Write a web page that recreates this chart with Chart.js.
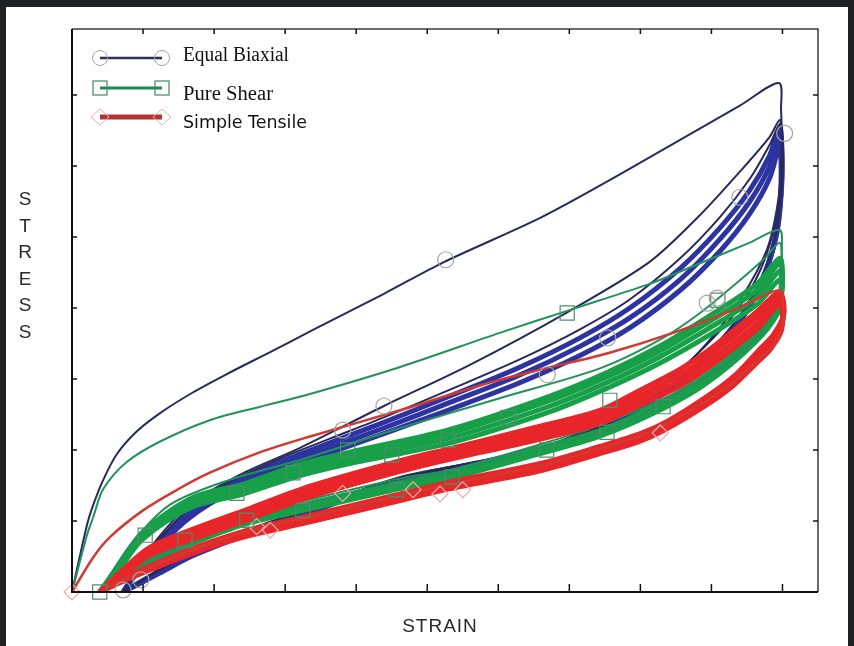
<!DOCTYPE html>
<html>
<head>
<meta charset="utf-8">
<title>Stress vs strain</title>
<script src="https://cdn.jsdelivr.net/npm/chart.js@4.4.0/dist/chart.umd.min.js"></script>
<style>
  html, body { margin: 0; padding: 0; }
  body { width: 854px; height: 646px; background: #1f2124; position: relative; overflow: hidden; }
  #sheet { position: absolute; left: 6px; top: 7px; width: 842px; height: 639px; background: #fff; }
  #stressStrain { position: absolute; left: 0; top: 0; }
</style>
</head>
<body>
<div id="sheet"></div>
<canvas id="stressStrain" width="854" height="646"></canvas>
<script>
// axis ticks (no labels in the original), strain 0..10.5, stress 0..7.93
let strainTicks = [1, 2, 3, 4, 5, 6, 7, 8, 9, 10];
let stressTicks = [1, 2, 3, 4, 5, 6, 7];
let legendLabels = ["Equal Biaxial", "Pure Shear", "Simple Tensile"];

// Equal Biaxial - loading branch then unloading branch of each cycle
let biaxialCycle1 = [[0,0],[0.21,0.94],[0.30,1.23],[0.44,1.58],[0.63,1.94],[0.91,2.26],[1.24,2.52],[1.70,2.81],[2.18,3.07],[2.83,3.40],[3.35,3.67],[4.39,4.20],[5.22,4.64],[6.59,5.27],[7.53,5.78],[8.70,6.45],[9.40,6.85],[9.95,7.17],
  [9.98,6.79],[9.99,6.23],[9.94,5.52],[9.78,4.82],[9.40,4.11],[8.94,3.51],[8.37,2.94],[7.71,2.49],[7.01,2.14],[6.02,1.89],[4.62,1.62],[3.35,1.17],[2.65,0.93],[1.70,0.56],[1.24,0.32],[0.72,0]];
let biaxialCycle2 = [[0.72,0],[1.10,0.62],[1.66,1.23],[2.36,1.65],[3.21,2.03],[4.39,2.62],[5.60,3.20],[6.97,3.94],[8.13,4.65],[8.84,5.31],[9.40,5.92],[9.82,6.41],[9.96,6.65],
  [9.99,6.45],[10.0,5.94],[9.91,5.24],[9.70,4.56],[9.36,3.97],[8.88,3.43],[8.30,2.92],[7.60,2.47],[6.85,2.12],[5.90,1.88],[4.62,1.61],[3.35,1.18],[2.65,0.94],[1.70,0.57],[1.24,0.33],[0.72,0]];
let biaxialCycle3 = [[0.72,0],[0.96,0.40],[1.24,0.76],[1.66,1.18],[2.22,1.55],[2.93,1.88],[3.63,2.16],[4.39,2.46],[5.32,2.85],[6.31,3.28],[7.15,3.70],[7.85,4.12],[8.56,4.70],[9.12,5.28],[9.54,5.82],[9.82,6.30],[9.97,6.60],
  [10.0,6.40],[10.0,5.85],[9.93,5.15],[9.74,4.50],[9.42,3.92],[8.96,3.38],[8.40,2.90],[7.72,2.47],[6.98,2.14],[6.0,1.88],[4.62,1.60],[3.35,1.16],[2.65,0.92],[1.70,0.55],[1.24,0.31],[0.72,0]];
let biaxialCycle4 = [[0.72,0],[0.96,0.38],[1.24,0.73],[1.66,1.15],[2.22,1.51],[2.93,1.83],[3.63,2.10],[4.39,2.39],[5.32,2.76],[6.31,3.17],[7.15,3.58],[7.85,4.00],[8.56,4.56],[9.12,5.13],[9.54,5.66],[9.82,6.15],[9.96,6.55],
  [9.99,6.30],[9.99,5.75],[9.92,5.05],[9.72,4.42],[9.40,3.86],[8.95,3.34],[8.40,2.87],[7.72,2.46],[7.0,2.14],[6.0,1.87],[4.62,1.59],[3.35,1.15],[2.65,0.91],[1.70,0.54],[1.24,0.30],[0.72,0]];
let biaxialCycle5 = [[0.72,0],[0.96,0.35],[1.24,0.70],[1.66,1.10],[2.22,1.46],[2.93,1.77],[3.63,2.03],[4.39,2.31],[5.32,2.67],[6.31,3.06],[7.15,3.46],[7.85,3.86],[8.56,4.40],[9.12,4.97],[9.54,5.50],[9.82,6.00],[9.96,6.45],
  [9.99,6.20],[9.98,5.65],[9.90,4.98],[9.70,4.36],[9.38,3.80],[8.93,3.30],[8.38,2.84],[7.70,2.44],[7.0,2.12],[6.0,1.86],[4.62,1.58],[3.35,1.13],[2.65,0.89],[1.70,0.52],[1.24,0.28],[0.72,0]];
let biaxialCycle6 = [[0.72,0],[0.96,0.33],[1.24,0.66],[1.66,1.05],[2.22,1.40],[2.93,1.70],[3.63,1.96],[4.39,2.23],[5.32,2.57],[6.31,2.95],[7.15,3.33],[7.85,3.72],[8.56,4.25],[9.12,4.80],[9.54,5.33],[9.82,5.83],[9.96,6.30],
  [9.98,6.05],[9.97,5.50],[9.88,4.90],[9.68,4.30],[9.36,3.75],[8.92,3.26],[8.36,2.81],[7.68,2.42],[7.0,2.10],[6.0,1.85],[4.62,1.57],[3.35,1.12],[2.65,0.88],[1.70,0.51],[1.24,0.27],[0.72,0]];

// Pure Shear
let shearCycle1 = [[0,0],[0.21,0.80],[0.30,1.06],[0.44,1.45],[0.77,1.83],[1.24,2.12],[1.94,2.42],[2.65,2.61],[3.35,2.79],[4.62,3.17],[6.02,3.65],[6.97,3.96],[7.43,4.11],[8.13,4.34],[8.84,4.63],[9.54,4.92],[9.96,5.10],
  [9.99,4.82],[9.98,4.39],[9.89,3.97],[9.64,3.62],[9.26,3.27],[8.84,2.99],[8.23,2.61],[7.53,2.28],[6.59,2.03],[5.32,1.69],[4.62,1.56],[3.21,1.22],[2.41,1.01],[1.52,0.62],[0.82,0.28],[0.39,0]];
let shearCycle2 = [[0.39,0],[0.82,0.66],[1.38,1.23],[2.22,1.58],[3.21,1.86],[4.62,2.31],[6.02,2.73],[7.43,3.15],[8.27,3.55],[8.84,3.93],[9.40,4.39],[9.75,4.70],[9.96,4.92],
  [9.99,4.65],[9.98,4.25],[9.82,3.83],[9.47,3.41],[8.98,3.06],[8.27,2.70],[7.43,2.35],[6.59,2.08],[5.32,1.72],[4.62,1.60],[3.21,1.27],[2.36,1.05],[1.52,0.66],[0.82,0.31],[0.39,0]];
let shearCycle3 = [[0.39,0],[0.67,0.40],[1.00,0.85],[1.70,1.33],[2.41,1.52],[3.21,1.80],[3.91,1.97],[5.32,2.29],[6.73,2.76],[7.53,3.09],[8.23,3.44],[8.94,3.87],[9.64,4.34],[9.96,4.70],
  [10.0,4.50],[9.97,4.16],[9.66,3.70],[8.96,3.08],[8.25,2.65],[7.45,2.28],[6.59,2.03],[5.32,1.68],[4.62,1.54],[3.35,1.25],[2.46,1.03],[1.80,0.79],[1.10,0.46],[0.67,0.21],[0.39,0]];
let shearCycle4 = [[0.39,0],[0.67,0.38],[1.00,0.83],[1.70,1.30],[2.41,1.48],[3.21,1.76],[3.91,1.93],[5.32,2.24],[6.73,2.70],[7.53,3.03],[8.23,3.37],[8.94,3.79],[9.64,4.25],[9.96,4.63],
  [10.0,4.42],[9.96,4.08],[9.64,3.63],[8.94,3.02],[8.23,2.60],[7.43,2.24],[6.59,2.00],[5.32,1.65],[4.62,1.51],[3.35,1.22],[2.46,1.00],[1.80,0.76],[1.10,0.44],[0.67,0.20],[0.39,0]];
let shearCycle5 = [[0.39,0],[0.67,0.35],[1.00,0.79],[1.70,1.25],[2.41,1.43],[3.21,1.70],[3.91,1.87],[5.32,2.17],[6.73,2.62],[7.53,2.95],[8.23,3.29],[8.94,3.70],[9.64,4.15],[9.96,4.52],
  [9.99,4.33],[9.95,4.00],[9.62,3.57],[8.92,2.97],[8.21,2.56],[7.41,2.21],[6.57,1.97],[5.30,1.62],[4.60,1.48],[3.33,1.19],[2.44,0.97],[1.78,0.73],[1.08,0.42],[0.66,0.19],[0.39,0]];
let shearCycle6 = [[0.39,0],[0.67,0.33],[1.00,0.75],[1.70,1.20],[2.41,1.38],[3.21,1.64],[3.91,1.81],[5.32,2.10],[6.73,2.54],[7.53,2.87],[8.23,3.20],[8.94,3.60],[9.64,4.05],[9.96,4.40],
  [9.98,4.22],[9.93,3.92],[9.60,3.50],[8.90,2.92],[8.19,2.52],[7.39,2.18],[6.55,1.94],[5.28,1.59],[4.58,1.45],[3.31,1.16],[2.42,0.95],[1.76,0.71],[1.06,0.40],[0.65,0.18],[0.39,0]];

// Simple Tensile
let tensileCycle1 = [[0,0],[0.30,0.49],[0.53,0.77],[1.00,1.15],[1.48,1.44],[1.94,1.68],[2.65,1.97],[3.35,2.19],[4.62,2.56],[5.88,2.95],[6.66,3.15],[7.53,3.36],[8.46,3.65],[9.40,4.01],[9.96,4.25],
  [10.01,3.95],[10.0,3.72],[9.85,3.45],[9.64,3.25],[9.33,2.97],[8.94,2.70],[8.37,2.37],[7.99,2.20],[7.43,2.02],[6.59,1.78],[5.32,1.52],[4.62,1.36],[3.35,1.06],[2.51,0.87],[1.80,0.63],[1.10,0.35],[0.67,0.15],[0.39,0]];
let tensileCycle2 = [[0.39,0],[0.67,0.27],[1.10,0.63],[1.80,0.92],[2.51,1.18],[3.35,1.49],[4.62,1.85],[5.32,2.02],[6.49,2.31],[7.43,2.56],[7.99,2.84],[8.56,3.14],[8.94,3.39],[9.64,3.95],[9.96,4.22],
  [10.02,3.92],[9.87,3.62],[9.66,3.40],[9.35,3.07],[8.96,2.77],[8.39,2.41],[8.00,2.23],[7.43,2.05],[6.59,1.81],[5.32,1.55],[4.62,1.38],[3.35,1.08],[2.51,0.88],[1.80,0.65],[1.10,0.37],[0.67,0.16],[0.39,0]];
let tensileCycle3 = [[0.39,0],[0.67,0.24],[1.10,0.59],[1.80,0.87],[2.51,1.13],[3.35,1.44],[4.62,1.80],[5.32,1.97],[6.49,2.25],[7.43,2.49],[7.99,2.77],[8.56,3.06],[8.94,3.31],[9.64,3.87],[9.96,4.18],
  [10.01,3.86],[9.85,3.56],[9.64,3.34],[9.33,3.02],[8.94,2.72],[8.37,2.37],[7.99,2.19],[7.43,2.01],[6.59,1.77],[5.32,1.52],[4.62,1.35],[3.35,1.05],[2.51,0.86],[1.80,0.63],[1.10,0.35],[0.67,0.15],[0.39,0]];
let tensileCycle4 = [[0.39,0],[0.67,0.21],[1.10,0.55],[1.80,0.82],[2.51,1.08],[3.35,1.39],[4.62,1.75],[5.32,1.92],[6.49,2.19],[7.43,2.43],[7.99,2.70],[8.56,2.98],[8.94,3.23],[9.64,3.78],[9.96,4.12],
  [10.0,3.78],[9.84,3.48],[9.63,3.27],[9.31,2.95],[8.92,2.67],[8.35,2.32],[7.97,2.15],[7.41,1.97],[6.57,1.73],[5.30,1.48],[4.60,1.31],[3.33,1.01],[2.49,0.82],[1.78,0.60],[1.08,0.32],[0.66,0.13],[0.39,0]];
let tensileCycle5 = [[0.39,0],[0.67,0.19],[1.10,0.52],[1.80,0.78],[2.51,1.03],[3.35,1.34],[4.62,1.70],[5.32,1.87],[6.49,2.13],[7.43,2.37],[7.99,2.63],[8.56,2.90],[8.94,3.15],[9.64,3.70],[9.96,4.05],
  [9.99,3.70],[9.83,3.42],[9.62,3.21],[9.30,2.90],[8.91,2.62],[8.34,2.28],[7.96,2.11],[7.40,1.94],[6.56,1.70],[5.29,1.45],[4.59,1.28],[3.32,0.98],[2.48,0.79],[1.77,0.57],[1.07,0.30],[0.65,0.12],[0.39,0]];

// symbols sitting on the curves
let biaxialMarks = [[0.72,0.03],[0.97,0.17],[3.81,2.28],[4.39,2.62],[5.26,4.68],[6.69,3.06],[7.54,3.58],[8.94,4.07],[9.08,4.14],[9.40,5.56],[10.03,6.46]];
let shearMarks = [[0.39,0],[1.03,0.80],[2.32,1.39],[3.11,1.68],[3.25,1.15],[2.46,1.01],[3.88,2.00],[4.50,1.93],[5.29,2.14],[6.14,2.46],[5.35,1.62],[4.57,1.44],[6.97,3.93],[7.57,2.70],[8.32,2.61],[7.53,2.25],[6.68,2.00],[9.09,4.11],[1.59,0.73]];
let tensileMarks = [[0,0],[2.60,0.92],[2.79,0.87],[3.81,1.39],[4.80,1.44],[5.18,1.38],[5.50,1.44],[8.28,2.24]];

function curve(points, color, width, order) {
    return {
        data: points.map(p => ({x: p[0], y: p[1]})),
        showLine: true,
        borderColor: color,
        borderWidth: width,
        pointRadius: 0,
        pointHoverRadius: 0,
        tension: 0.3,
        fill: false,
        order: order
    };
}

function marks(points, style, radius, color) {
    return {
        data: points.map(p => ({x: p[0], y: p[1]})),
        showLine: false,
        pointStyle: style,
        pointRadius: radius,
        pointHoverRadius: radius,
        pointBorderWidth: 1.2,
        borderColor: color,
        backgroundColor: "rgba(0,0,0,0)",
        clip: false,
        order: 0
    };
}

let navy = "#272b5c";
let blue = "#2d33a0";
let green = "#18a049";
let greenThin = "#23925a";
let red = "#e8262a";
let redThin = "#cf3a33";

let datasets = [
    marks(biaxialMarks, "circle", 8, "#a3a3a3"),
    marks(shearMarks, "rect", 10, "#4d8f68"),
    marks(tensileMarks, "rectRot", 8, "#eeaaaa"),
    curve(tensileCycle1, redThin, 2.5, 1),
    curve(tensileCycle2, red, 5, 1),
    curve(tensileCycle3, red, 5, 1),
    curve(tensileCycle4, red, 5, 1),
    curve(tensileCycle5, red, 5, 1),
    curve(shearCycle1, greenThin, 2, 2),
    curve(shearCycle2, greenThin, 2, 2),
    curve(shearCycle3, green, 5, 2),
    curve(shearCycle4, green, 5, 2),
    curve(shearCycle5, green, 5, 2),
    curve(shearCycle6, green, 5, 2),
    curve(biaxialCycle1, navy, 2, 3),
    curve(biaxialCycle2, navy, 2, 3),
    curve(biaxialCycle3, navy, 2, 3),
    curve(biaxialCycle4, blue, 5, 3),
    curve(biaxialCycle5, blue, 5, 3),
    curve(biaxialCycle6, blue, 5, 3)
];

function fitText(ctx, text, x, baseline, width) {
    let w = ctx.measureText(text).width;
    ctx.save();
    ctx.translate(x, baseline);
    ctx.scale(width / w, 1);
    ctx.fillText(text, 0, 0);
    ctx.restore();
}

// frame with inward ticks, legend box and axis words
let decorations = {
    id: "decorations",
    afterDraw(chart) {
        let ctx = chart.ctx;
        let a = chart.chartArea;
        let xs = chart.scales.x;
        let ys = chart.scales.y;
        ctx.save();

        ctx.strokeStyle = "#3a3a3a";
        ctx.lineWidth = 1.5;
        ctx.beginPath();
        ctx.moveTo(a.left, a.top); ctx.lineTo(a.right, a.top); ctx.lineTo(a.right, a.bottom);
        ctx.stroke();
        ctx.strokeStyle = "#111";
        ctx.lineWidth = 2;
        ctx.beginPath();
        ctx.moveTo(a.left, a.top); ctx.lineTo(a.left, a.bottom); ctx.lineTo(a.right, a.bottom);
        ctx.stroke();

        ctx.lineWidth = 1.5;
        ctx.beginPath();
        strainTicks.forEach(v => {
            let px = xs.getPixelForValue(v);
            ctx.moveTo(px, a.bottom); ctx.lineTo(px, a.bottom - 8);
            ctx.moveTo(px, a.top); ctx.lineTo(px, a.top + 5);
        });
        stressTicks.forEach(v => {
            let py = ys.getPixelForValue(v);
            ctx.moveTo(a.left, py); ctx.lineTo(a.left + 5, py);
            ctx.moveTo(a.right, py); ctx.lineTo(a.right - 5, py);
        });
        ctx.stroke();

        // legend
        let x1 = 100, x2 = 162;
        ctx.lineWidth = 2.5;
        ctx.strokeStyle = "#2b2e55";
        ctx.beginPath(); ctx.moveTo(x1, 58); ctx.lineTo(x2, 58); ctx.stroke();
        ctx.lineWidth = 1;
        ctx.strokeStyle = "#a3a3a3";
        [x1, x2].forEach(x => { ctx.beginPath(); ctx.arc(x, 58, 7.5, 0, Math.PI * 2); ctx.stroke(); });

        ctx.lineWidth = 3;
        ctx.strokeStyle = "#1e8a50";
        ctx.beginPath(); ctx.moveTo(x1, 88); ctx.lineTo(x2, 88); ctx.stroke();
        ctx.lineWidth = 1.2;
        ctx.strokeStyle = "#3f8a62";
        [x1, x2].forEach(x => ctx.strokeRect(x - 7, 81, 14, 14));

        ctx.lineWidth = 5;
        ctx.strokeStyle = "#b53234";
        ctx.beginPath(); ctx.moveTo(x1, 117); ctx.lineTo(x2, 117); ctx.stroke();
        ctx.lineWidth = 1;
        ctx.strokeStyle = "#eeaaaa";
        [x1, x2].forEach(x => {
            ctx.beginPath();
            ctx.moveTo(x - 9, 117); ctx.lineTo(x, 109); ctx.lineTo(x + 9, 117); ctx.lineTo(x, 125);
            ctx.closePath(); ctx.stroke();
        });

        ctx.fillStyle = "#111";
        ctx.textAlign = "left";
        ctx.textBaseline = "alphabetic";
        ctx.font = "20px 'Liberation Serif', serif";
        fitText(ctx, legendLabels[0], 183, 61, 106);
        fitText(ctx, legendLabels[1], 183, 100, 90);
        ctx.font = "18px 'DejaVu Sans', sans-serif";
        fitText(ctx, legendLabels[2], 183, 128, 124);

        // axis words
        ctx.fillStyle = "#2a2a2a";
        ctx.font = "19px 'Liberation Sans', Arial, sans-serif";
        ctx.textAlign = "center";
        let letters = "STRESS".split("");
        letters.forEach((ch, i) => ctx.fillText(ch, 25, 205 + i * 26.6));
        ctx.letterSpacing = "1px";
        ctx.fillText("STRAIN", 440, 632);
        ctx.restore();
    }
};

new Chart("stressStrain", {
    type: "scatter",
    data: { datasets: datasets },
    options: {
        responsive: false,
        animation: false,
        devicePixelRatio: 1,
        layout: { padding: { left: 72, top: 29, right: 36, bottom: 54 } },
        plugins: { legend: { display: false }, tooltip: { enabled: false } },
        events: [],
        scales: {
            x: { type: "linear", min: 0, max: 10.5, display: false },
            y: { type: "linear", min: 0, max: 7.93, display: false }
        }
    },
    plugins: [decorations]
});
</script>
</body>
</html>
